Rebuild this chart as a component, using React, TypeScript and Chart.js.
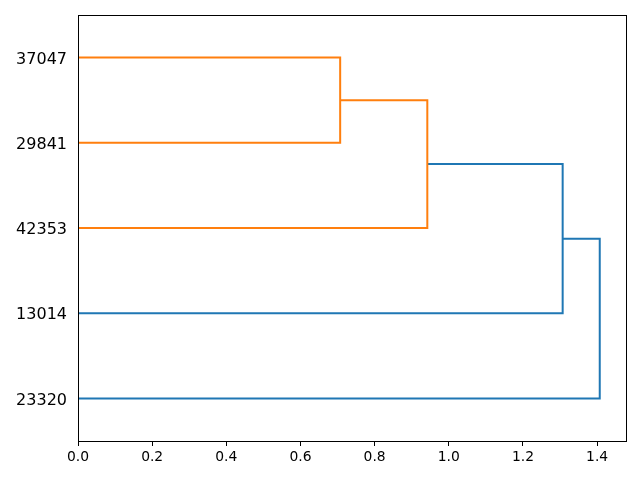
import React, { useEffect, useRef } from "react";
import { Chart, registerables } from "chart.js";

Chart.register(...registerables);

const leafLabels = ["23320", "13014", "42353", "29841", "37047"];
const leafPositions = [5, 15, 25, 35, 45];
const xTicks = [0, 0.2, 0.4, 0.6, 0.8, 1.0, 1.2, 1.4];
const linkX = [
  [0, 0.707, 0.707, 0],
  [0.707, 0.942, 0.942, 0],
  [0.942, 1.307, 1.307, 0],
  [1.307, 1.407, 1.407, 0],
];
const linkY = [
  [45, 45, 35, 35],
  [40, 40, 25, 25],
  [32.5, 32.5, 15, 15],
  [23.75, 23.75, 5, 5],
];
const linkColors = ["#ff7f0e", "#ff7f0e", "#1f77b4", "#1f77b4"];
const xMax = 1.4778;
const FONT = "'DejaVu Sans', sans-serif";

const framePlugin = {
  id: "frame",
  afterDatasetsDraw(chart: any) {
    const { ctx, chartArea } = chart;
    ctx.save();
    ctx.strokeStyle = "#000";
    ctx.lineWidth = 1;
    ctx.strokeRect(
      Math.round(chartArea.left) + 0.5,
      Math.round(chartArea.top) + 0.5,
      Math.round(chartArea.right - chartArea.left),
      Math.round(chartArea.bottom - chartArea.top)
    );
    ctx.restore();
  },
};

export default function App() {
  const ref = useRef<HTMLCanvasElement>(null);
  useEffect(() => {
    if (!ref.current) return;
    const datasets = linkX.map((xs, i) => ({
      data: xs.map((x, j) => ({ x, y: linkY[i][j] })),
      borderColor: linkColors[i],
      borderWidth: 2,
      pointRadius: 0,
      showLine: true,
      fill: false,
      tension: 0,
    }));
    const chart = new Chart(ref.current, {
      type: "scatter",
      data: { datasets },
      plugins: [framePlugin],
      options: {
        animation: false,
        responsive: false,
        maintainAspectRatio: false,
        devicePixelRatio: 1,
        layout: { padding: { top: 15, right: 14, left: 0, bottom: 0 } },
        plugins: { legend: { display: false }, tooltip: { enabled: false } },
        scales: {
          x: {
            type: "linear",
            min: 0,
            max: xMax,
            afterBuildTicks: (axis: any) => {
              axis.ticks = xTicks.map((v) => ({ value: v }));
            },
            afterFit: (axis: any) => {
              axis.height = 39;
              axis.paddingLeft = 0;
              axis.paddingRight = 0;
            },
            ticks: {
              color: "#000",
              font: { family: FONT, size: 13.89 },
              padding: 3,
              maxRotation: 0,
              callback: (v: any) => Number(v).toFixed(1),
            },
            grid: {
              display: true,
              drawOnChartArea: false,
              drawTicks: true,
              tickLength: 5,
              color: "#000",
            },
            border: { display: true, color: "#000" },
          },
          y: {
            type: "linear",
            min: 0,
            max: 50,
            afterBuildTicks: (axis: any) => {
              axis.ticks = leafPositions.map((v) => ({ value: v }));
            },
            afterFit: (axis: any) => {
              axis.width = 78;
              axis.paddingTop = 0;
              axis.paddingBottom = 0;
            },
            ticks: {
              color: "#000",
              font: { family: FONT, size: 16 },
              padding: 11,
              labelOffset: 2,
              callback: (v: any) => {
                const idx = leafPositions.indexOf(Number(v));
                return idx >= 0 ? leafLabels[idx] : "";
              },
            },
            grid: { display: false, drawTicks: false, tickLength: 0 },
            border: { display: true, color: "#000" },
          },
        },
      },
    });
    return () => chart.destroy();
  }, []);
  return (
    <div style={{ position: "absolute", left: 0, top: 0, width: 640, height: 480, background: "#fff" }}>
      <canvas ref={ref} width={640} height={480} style={{ width: 640, height: 480 }} />
    </div>
  );
}
